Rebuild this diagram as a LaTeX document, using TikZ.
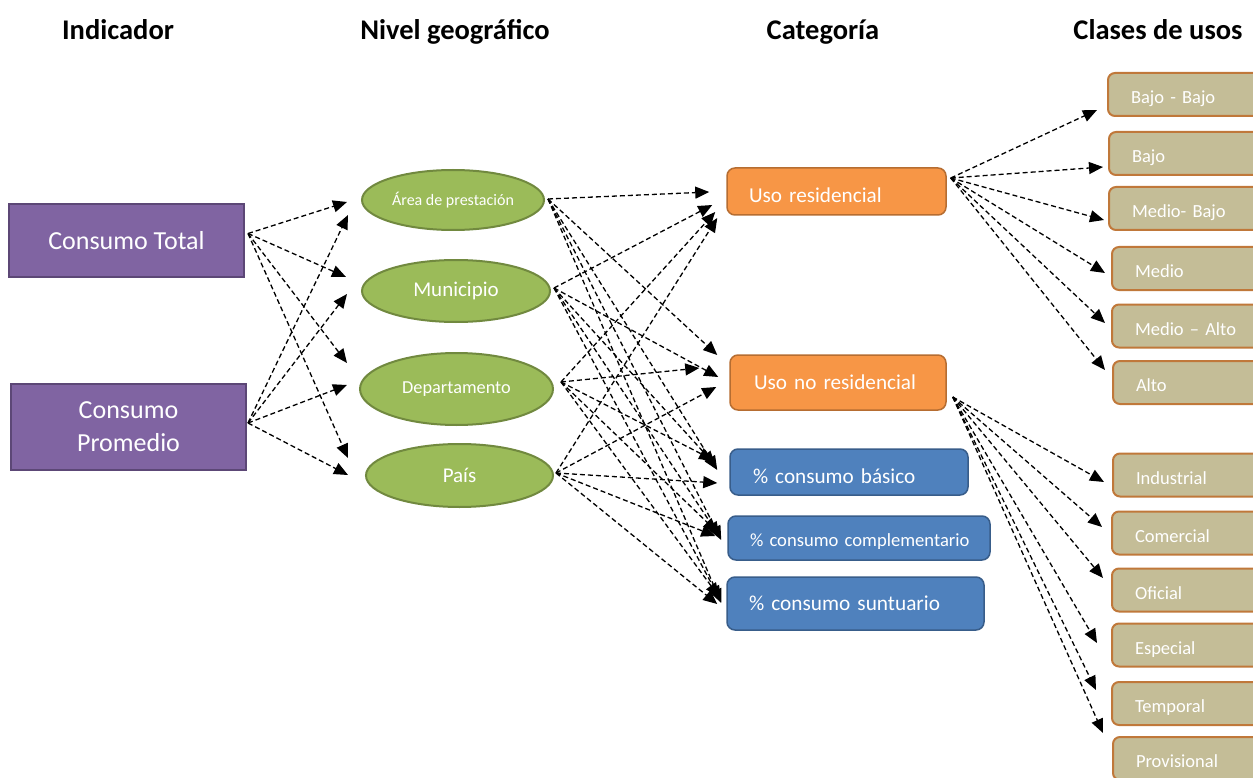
\documentclass[tikz,border=0pt]{standalone}
\usepackage{fontspec}
\setmainfont{Carlito}
\usetikzlibrary{arrows.meta,shapes.geometric}
\definecolor{purp}{HTML}{8064A2}
\definecolor{purpd}{HTML}{5C4776}
\definecolor{grn}{HTML}{9BBB59}
\definecolor{grnd}{HTML}{71893F}
\definecolor{org}{HTML}{F79646}
\definecolor{orgd}{HTML}{B66D31}
\definecolor{blu}{HTML}{4F81BD}
\definecolor{blud}{HTML}{385D8A}
\definecolor{tanf}{HTML}{C4BD97}
\definecolor{tand}{HTML}{C0783A}
\begin{document}
\begin{tikzpicture}[x=1pt,y=-1pt,
  hdr/.style={font=\fontsize{28.5}{34}\selectfont\bfseries, anchor=base, inner sep=0pt},
  indbox/.style={draw=purpd, fill=purp, line width=2pt, text=white, minimum width=235pt, inner sep=0pt, align=center, font=\fontsize{26}{33}\selectfont},
  geo/.style={ellipse, draw=grnd, fill=grn, line width=2pt, text=white, inner sep=0pt},
  cat/.style={rounded corners=8pt, line width=1.5pt, text=white, align=left, inner ysep=0pt},
  resbox/.style={cat, fill=org, draw=orgd},
  pctbox/.style={cat, fill=blu, draw=blud},
  cls/.style={rounded corners=7pt, draw=tand, fill=tanf, line width=2pt, text=white, align=left, inner xsep=23pt, text width=134pt, minimum height=43pt, inner ysep=0pt, text height=18pt, text depth=0pt, font=\fontsize{18.5}{22}\selectfont},
  arr/.style={dash pattern=on 5pt off 3pt, line width=1.3pt, -{Triangle[length=14pt,width=12pt]}}
]
\clip (0,0) rectangle (1253,778);
\fill[white] (0,0) rectangle (1253,778);

% headers
\node[hdr] (h1) at (118,40) {Indicador};
\node[hdr] (h2) at (455,40) {Nivel geográfico};
\node[hdr] (h3) at (823,40) {Categoría};
\node[hdr] (h4) at (1158,40) {Clases de usos};

% indicators
\node[indbox, minimum height=73pt] (ct) at (126.5,240.5) {Consumo Total};
\node[indbox, minimum height=86pt] (cp) at (128.5,427) {Consumo\\Promedio};

% geographic levels
\node[geo, minimum width=182pt, minimum height=60pt, font=\fontsize{16}{19}\selectfont] (area) at (453,200) {Área de prestación};
\node[geo, minimum width=188pt, minimum height=62pt, font=\fontsize{21}{25}\selectfont] (mun) at (456,291) {Municipio};
\node[geo, minimum width=193pt, minimum height=72pt, font=\fontsize{18.3}{22}\selectfont] (dep) at (456.5,389) {Departamento};
\node[geo, minimum width=187pt, minimum height=63pt, font=\fontsize{21}{25}\selectfont] (pais) at (459.5,475.5) {País};

% categories
\node[resbox, minimum height=47pt, inner xsep=22pt, text width=175pt, text height=23pt, text depth=0pt, font=\fontsize{21.2}{25}\selectfont] (res) at (836.5,191.5) {Uso residencial};
\node[resbox, minimum height=55pt, inner xsep=24pt, text width=168pt, font=\fontsize{21.2}{25}\selectfont] (nores) at (838,382.5) {Uso no residencial};
\node[pctbox, minimum height=46pt, inner xsep=23pt, text width=192pt, text height=22pt, text depth=0pt, font=\fontsize{21.2}{25}\selectfont] (bas) at (849,472) {\% consumo básico};
\node[pctbox, minimum height=44pt, inner xsep=22pt, text width=218pt, text height=16pt, text depth=0pt, font=\fontsize{18.6}{22}\selectfont] (comp) at (859,538) {\mbox{\% consumo complementario}};
\node[pctbox, minimum height=53pt, inner xsep=22pt, text width=213pt, font=\fontsize{21.3}{25}\selectfont] (sunt) at (855.5,603.5) {\% consumo suntuario};

% classes
\node[cls] (bb) at (1198,94.5) {Bajo - Bajo};
\node[cls] (b) at (1199,153.5) {Bajo};
\node[cls] (mb) at (1199,208.5) {Medio- Bajo};
\node[cls] (m) at (1202,268.5) {Medio};
\node[cls] (ma) at (1202,326) {Medio – Alto};
\node[cls] (a) at (1203,382.5) {Alto};
\node[cls] (ind) at (1203,475) {Industrial};
\node[cls] (com) at (1202,533) {Comercial};
\node[cls] (ofi) at (1202,590) {Oficial};
\node[cls] (esp) at (1202,645) {Especial};
\node[cls] (tem) at (1202,703.5) {Temporal};
\node[cls] (pro) at (1203,758.5) {Provisional};

% indicator -> geographic level
\draw[arr] ([shift={(3,-7)}]ct.east) -- ([shift={(-14,2)}]area.west);
\draw[arr] ([shift={(3,-7)}]ct.east) -- ([shift={(-15,-14)}]mun.west);
\draw[arr] ([shift={(3,-7)}]ct.east) -- ([shift={(-12,-26)}]dep.west);
\draw[arr] ([shift={(3,-7)}]ct.east) -- ([shift={(-17,-17.5)}]pais.west);
\draw[arr] ([shift={(1,-4)}]cp.east) -- ([shift={(-13,15)}]area.west);
\draw[arr] ([shift={(1,-4)}]cp.east) -- ([shift={(-14,3)}]mun.west);
\draw[arr] ([shift={(1,-4)}]cp.east) -- ([shift={(-12,-4)}]dep.west);
\draw[arr] ([shift={(1,-4)}]cp.east) -- ([shift={(-17,-0.5)}]pais.west);

% geographic level -> category
\draw[arr] ([shift={(3,-1)}]area.east) -- ([shift={(-17,0.5)}]res.west);
\draw[arr] ([shift={(3,-1)}]area.east) -- ([shift={(-12,-27.5)}]nores.west);
\draw[arr] ([shift={(3,-1)}]area.east) -- ([shift={(-12,-2)}]bas.west);
\draw[arr] ([shift={(3,-1)}]area.east) -- ([shift={(-6,2)}]comp.west);
\draw[arr] ([shift={(3,-1)}]area.east) -- ([shift={(-5,-0.5)}]sunt.west);

\draw[arr] ([shift={(3,-3)}]mun.east) -- ([shift={(-14,13.5)}]res.west);
\draw[arr] ([shift={(3,-3)}]mun.east) -- ([shift={(-11,-5.5)}]nores.west);
\draw[arr] ([shift={(3,-3)}]mun.east) -- ([shift={(-14,-7)}]bas.west);
\draw[arr] ([shift={(3,-3)}]mun.east) -- ([shift={(-8,-2)}]comp.west);
\draw[arr] ([shift={(3,-3)}]mun.east) -- ([shift={(-6,-3.5)}]sunt.west);

\draw[arr] ([shift={(7,-7)}]dep.east) -- ([shift={(-11,20.5)}]res.west);
\draw[arr] ([shift={(7,-7)}]dep.east) -- ([shift={(-30,-14.5)}]nores.west);
\draw[arr] ([shift={(7,-7)}]dep.east) -- ([shift={(-16,-12)}]bas.west);
\draw[arr] ([shift={(7,-7)}]dep.east) -- ([shift={(-10,-6)}]comp.west);
\draw[arr] ([shift={(7,-7)}]dep.east) -- ([shift={(-7,-6.5)}]sunt.west);

\draw[arr] ([shift={(2,-2.5)}]pais.east) -- ([shift={(-9,26.5)}]res.west);
\draw[arr] ([shift={(2,-2.5)}]pais.east) -- ([shift={(-13,4.5)}]nores.west);
\draw[arr] ([shift={(2,-2.5)}]pais.east) -- ([shift={(-12,11)}]bas.west);
\draw[arr] ([shift={(2,-2.5)}]pais.east) -- ([shift={(-12,-2)}]comp.west);
\draw[arr] ([shift={(2,-2.5)}]pais.east) -- ([shift={(-9,0.5)}]sunt.west);

% residential classes
\draw[arr] ([shift={(4,-13.5)}]res.east) -- ([shift={(-10,15.5)}]bb.west);
\draw[arr] ([shift={(4,-13.5)}]res.east) -- ([shift={(-5,13.5)}]b.west);
\draw[arr] ([shift={(4,-13.5)}]res.east) -- ([shift={(-4,11.5)}]mb.west);
\draw[arr] ([shift={(4,-13.5)}]res.east) -- ([shift={(-6,4.5)}]m.west);
\draw[arr] ([shift={(4,-13.5)}]res.east) -- ([shift={(-6,-3)}]ma.west);
\draw[arr] ([shift={(4,-13.5)}]res.east) -- ([shift={(-7,-12.5)}]a.west);

% non-residential classes
\draw[arr] ([shift={(6,14.5)}]nores.east) -- ([shift={(-8,7)}]ind.west);
\draw[arr] ([shift={(6,14.5)}]nores.east) -- ([shift={(-9,-6)}]com.west);
\draw[arr] ([shift={(6,14.5)}]nores.east) -- ([shift={(-8,-12)}]ofi.west);
\draw[arr] ([shift={(6,14.5)}]nores.east) -- ([shift={(-14,-2)}]esp.west);
\draw[arr] ([shift={(6,14.5)}]nores.east) -- ([shift={(-15,-13.5)}]tem.west);
\draw[arr] ([shift={(6,14.5)}]nores.east) -- ([shift={(-9,-25.5)}]pro.west);
\end{tikzpicture}
\end{document}
